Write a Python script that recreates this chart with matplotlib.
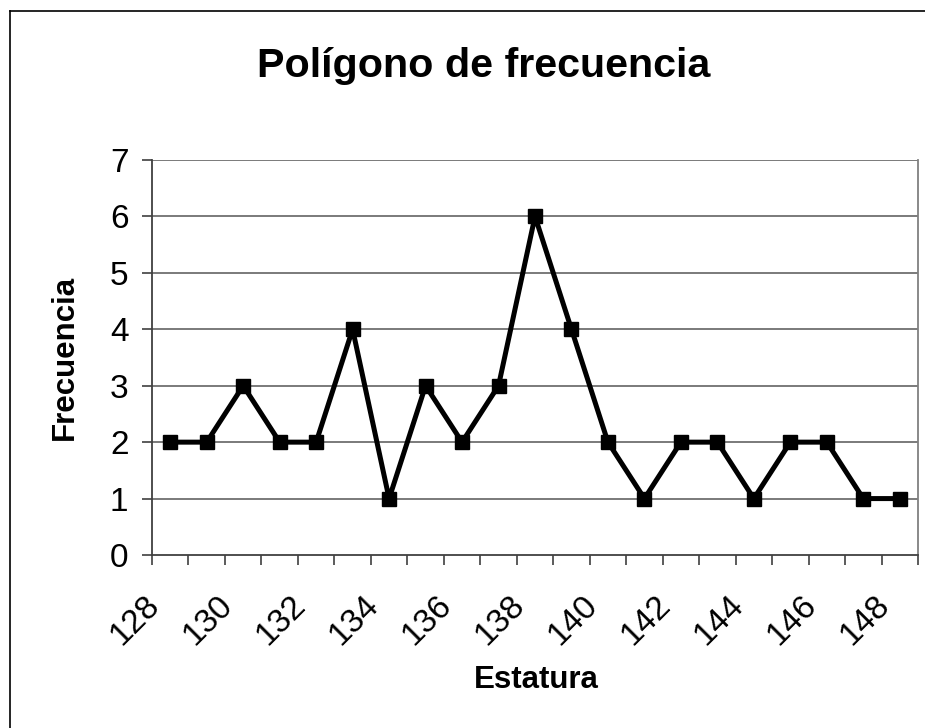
import matplotlib
matplotlib.use("Agg")
import matplotlib.pyplot as plt
from matplotlib.lines import Line2D
from matplotlib.transforms import ScaledTranslation

plt.rcParams["font.family"] = ["Liberation Sans", "DejaVu Sans"]

# datos: estatura y frecuencia
estatura = [128, 129, 130, 131, 132, 133, 134, 135, 136, 137, 138,
            139, 140, 141, 142, 143, 144, 145, 146, 147, 148]
frecuencia = [2, 2, 3, 2, 2, 4, 1, 3, 2, 3, 6,
              4, 2, 1, 2, 2, 1, 2, 2, 1, 1]
etiquetas_y = [0, 1, 2, 3, 4, 5, 6, 7]

W, H, DPI = 925, 728, 100
fig = plt.figure(figsize=(W / DPI, H / DPI), dpi=DPI)

# marco del grafico
fig.add_artist(Line2D([10 / W, 10 / W], [0, 1 - 11 / H], color="black", lw=1.2,
                      transform=fig.transFigure))
fig.add_artist(Line2D([10 / W, 1], [1 - 11 / H, 1 - 11 / H], color="black", lw=1.2,
                      transform=fig.transFigure))

ax = fig.add_axes([152 / W, 1 - 555 / H, 766 / W, 395 / H])

x = list(range(len(estatura)))
ax.plot(x, frecuencia, color="black", lw=3.6, marker="s", markersize=10.2,
        markerfacecolor="black", markeredgecolor="black", zorder=3, clip_on=False)

ax.set_xlim(-0.5, len(estatura) - 0.5)
ax.set_ylim(0, 7)

# eje Y
ax.set_yticks(etiquetas_y)
ax.set_yticklabels([str(v) for v in etiquetas_y], fontsize=24)
ax.tick_params(axis="y", direction="out", length=7, width=1.2, color="#404040", pad=10)
for v in etiquetas_y[1:]:
    ax.axhline(v, color="#707070", lw=1.3, zorder=1)

# eje X: marcas entre categorias, etiquetas cada dos
ax.set_xticks([i - 0.5 for i in range(len(estatura) + 1)])
ax.set_xticklabels([])
ax.tick_params(axis="x", which="major", direction="out", length=7, width=1.2, color="#404040")
ax.set_xticks(x[::2], minor=True)
ax.set_xticklabels([str(e) for e in estatura[::2]], minor=True, fontsize=24,
                   rotation=45, ha="right", va="center", rotation_mode="anchor")
ax.tick_params(axis="x", which="minor", length=0, pad=33)
offset = ScaledTranslation(-15 / DPI, 0, fig.dpi_scale_trans)
for lab in ax.xaxis.get_minorticklabels():
    lab.set_transform(lab.get_transform() + offset)

for s in ["left", "bottom"]:
    ax.spines[s].set_color("#404040")
    ax.spines[s].set_linewidth(1.3)
ax.spines["right"].set_color("#808080")
ax.spines["right"].set_linewidth(1.3)
ax.spines["top"].set_visible(False)

fig.text(257 / W, 1 - 77 / H, "Polígono de frecuencia", fontsize=29.7,
         fontweight="bold", ha="left", va="baseline")
fig.text(536 / W, 1 - 680 / H, "Estatura", fontsize=22.5, fontweight="bold",
         ha="center", va="center")
fig.text(65 / W, 1 - 357 / H, "Frecuencia", fontsize=22.5, fontweight="bold",
         ha="center", va="center", rotation=90)

fig.savefig("out.png", dpi=DPI)
